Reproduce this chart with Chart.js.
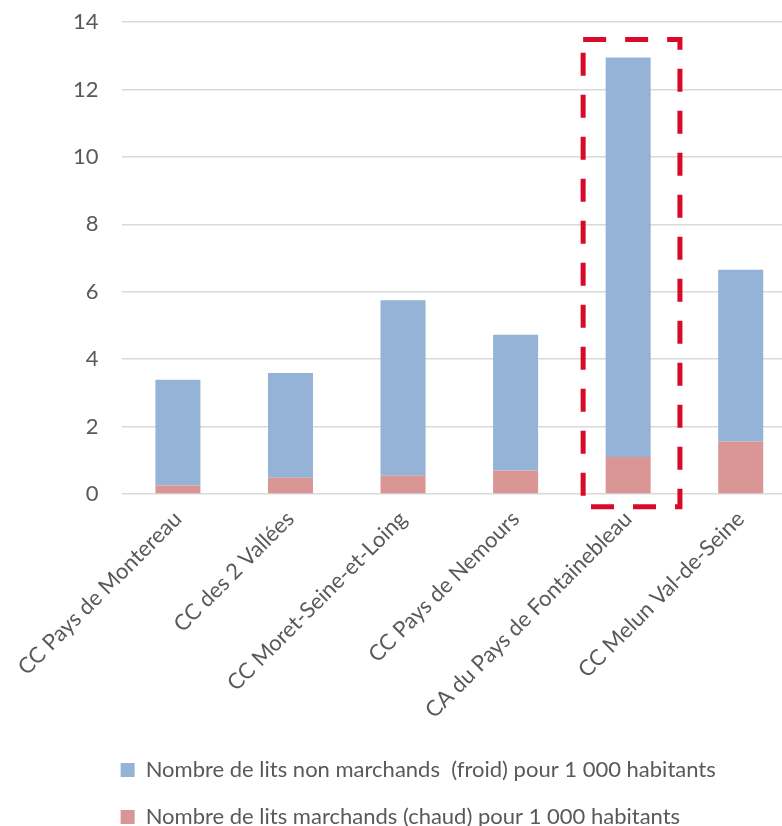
<!DOCTYPE html>
<html>
<head>
<meta charset="utf-8">
<script src="https://cdn.jsdelivr.net/npm/chart.js@4.4.1/dist/chart.umd.min.js"></script>
<style>
    body { margin: 0; overflow: hidden; background: #fff; }
</style>
</head>
<body>
<canvas id="chart" width="800" height="838"></canvas>
<script>
// Data
const categories = ['CC Pays de Montereau', 'CC des 2 Vallées', 'CC Moret-Seine-et-Loing', 'CC Pays de Nemours', 'CA du Pays de Fontainebleau', 'CC Melun Val-de-Seine'];
const litsMarchands = [0.25, 0.48, 0.54, 0.70, 1.10, 1.56];
const litsNonMarchands = [3.14, 3.11, 5.21, 4.02, 11.85, 5.09];
const yTicks = [0, 2, 4, 6, 8, 10, 12, 14];

// highlighted category and box extent (category units / value units)
const highlightIndex = 4;
const highlightBox = { left: -0.4, right: 0.46, top: 13.48, bottom: -0.38 };

const textColor = '#595959';
const fontFamily = 'Lato, "DejaVu Sans", sans-serif';

// Dashed red frame around one bar
const highlightPlugin = {
    id: 'highlight',
    afterDatasetsDraw(chart) {
        const { ctx, scales: { x, y } } = chart;
        const x1 = x.getPixelForValue(highlightIndex + highlightBox.left);
        const x2 = x.getPixelForValue(highlightIndex + highlightBox.right);
        const y1 = y.getPixelForValue(highlightBox.top);
        const y2 = y.getPixelForValue(highlightBox.bottom);
        ctx.save();
        ctx.strokeStyle = '#d80a2a';
        ctx.lineWidth = 5;
        ctx.setLineDash([23, 19]);
        ctx.strokeRect(x1, y1, x2 - x1, y2 - y1);
        ctx.restore();
    }
};

// Move legend so its rows line up with the plot's left edge
const legendShift = {
    id: 'legendShift',
    afterLayout(chart) {
        const lg = chart.legend;
        lg.left = chart.chartArea.left - 1 - lg.options.labels.padding;
    }
};

const ctx = document.getElementById('chart').getContext('2d');
new Chart(ctx, {
    type: 'bar',
    data: {
        labels: categories,
        datasets: [{
            label: 'Nombre de lits marchands (chaud) pour 1 000 habitants',
            data: litsMarchands,
            backgroundColor: '#d99694',
            borderWidth: 0
        }, {
            label: 'Nombre de lits non marchands  (froid) pour 1 000 habitants',
            data: litsNonMarchands,
            backgroundColor: '#95b3d7',
            borderWidth: 0
        }]
    },
    options: {
        responsive: false,
        animation: false,
        devicePixelRatio: 1,
        categoryPercentage: 1,
        barPercentage: 0.4,
        layout: { padding: { top: 22, right: 3, left: 0, bottom: 0 } },
        plugins: {
            tooltip: { enabled: false },
            legend: {
                position: 'bottom',
                align: 'start',
                reverse: true,
                labels: {
                    boxWidth: 14,
                    boxHeight: 14,
                    padding: 25,
                    color: textColor,
                    font: { family: fontFamily, size: 22 }
                }
            }
        },
        scales: {
            x: {
                stacked: true,
                grid: { display: false, drawTicks: false },
                border: { display: false },
                ticks: {
                    autoSkip: false,
                    maxRotation: 45,
                    minRotation: 45,
                    padding: 12,
                    color: textColor,
                    font: { family: fontFamily, size: 22 }
                },
                afterFit(scale) { scale.height = 240; }
            },
            y: {
                stacked: true,
                min: yTicks[0],
                max: yTicks[yTicks.length - 1],
                grid: { color: '#d9d9d9', lineWidth: 1.5, drawTicks: false },
                border: { display: false },
                ticks: {
                    stepSize: 2,
                    padding: 23,
                    color: textColor,
                    font: { family: fontFamily, size: 22 }
                },
                afterFit(scale) {
                    scale.width = 119;
                    scale.paddingTop = 0;
                    scale.paddingBottom = 0;
                }
            }
        }
    },
    plugins: [highlightPlugin, legendShift]
});
</script>
</body>
</html>
